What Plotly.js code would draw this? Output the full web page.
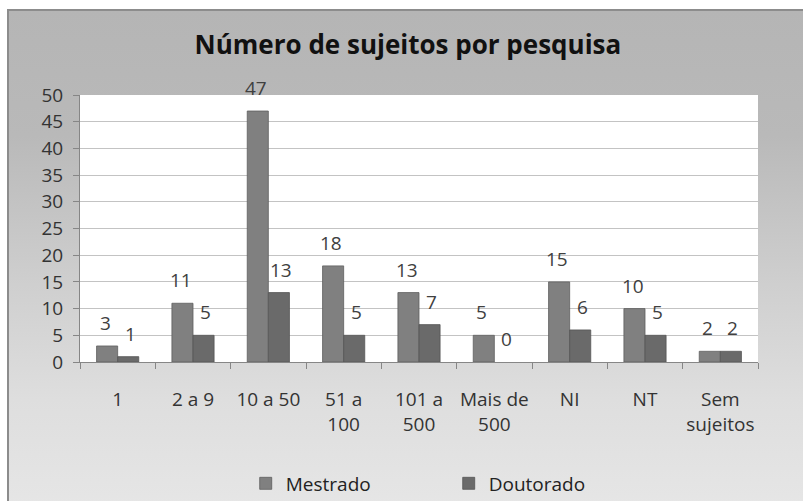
<!DOCTYPE html>
<html><head><meta charset="utf-8">
<script src="https://cdn.plot.ly/plotly-3.0.1.min.js"></script>
<style>
html,body{margin:0;padding:0;background:#fff;}
#bg{position:absolute;left:7px;top:9px;width:803px;height:500px;box-sizing:border-box;border-left:2px solid #8c8c8c;border-top:2px solid #8c8c8c;
background:linear-gradient(to bottom,#b5b5b5 0%,#b9b9b9 25%,#cfcfcf 55%,#dedede 78%,#e6e6e6 100%);}
#chart{position:absolute;left:0;top:0;width:803px;height:501px;}
</style></head>
<body>
<div id="bg"></div>
<div id="chart"></div>
<script>
const categories = ["1", "2 a 9", "10 a 50", "51 a<br>100", "101 a<br>500", "Mais de<br>500", "NI", "NT", "Sem<br>sujeitos"];
const mestrado = [3, 11, 47, 18, 13, 5, 15, 10, 2];
const doutorado = [1, 5, 13, 5, 7, 0, 6, 5, 2];
const seriesNames = ["Mestrado", "Doutorado"];
const yTicks = [0, 5, 10, 15, 20, 25, 30, 35, 40, 45, 50];

const font = "Open Sans, Liberation Sans, Arial, sans-serif";
const lw = v => v.map(d => d === 0 ? 0 : 0.8);
const traces = [
  {type:"bar", name:seriesNames[0], x:categories, y:mestrado,
   marker:{color:"#808080", line:{color:"#5e5e5e", width:lw(mestrado)}}},
  {type:"bar", name:seriesNames[1], x:categories, y:doutorado,
   marker:{color:"#6a6a6a", line:{color:"#555555", width:lw(doutorado)}}}
];
const annotations = [];
const off = 10.5;
categories.forEach((c,i)=>{
  annotations.push({x:i, y:mestrado[i], xref:"x", yref:"y", text:String(mestrado[i]), showarrow:false,
    yanchor:"bottom", xshift:-off-2, yshift:8, font:{family:font, size:19, color:"#404040"}});
  annotations.push({x:i, y:doutorado[i], xref:"x", yref:"y", text:String(doutorado[i]), showarrow:false,
    yanchor:"bottom", xshift:off+2, yshift:8, font:{family:font, size:19, color:"#404040"}});
});
const layout = {
  width:803, height:501,
  paper_bgcolor:"rgba(0,0,0,0)", plot_bgcolor:"#ffffff",
  margin:{l:80, r:45, t:95, b:139},
  title:{text:"<b>Número de sujeitos por pesquisa</b>", x:0.508, xanchor:"center", y:0.91, yanchor:"middle",
    font:{family:font, size:26, color:"#111"}},
  barmode:"group", bargap:0.44, bargroupgap:0,
  showlegend:true,
  legend:{orientation:"h", x:0.306, xanchor:"left", xref:"container", y:0.035, yref:"container", yanchor:"middle",
    font:{family:font, size:19, color:"#222"}, entrywidth:158, entrywidthmode:"pixels", itemwidth:30, bgcolor:"rgba(0,0,0,0)"},
  xaxis:{type:"category", showgrid:false, showline:true, linecolor:"#868686", linewidth:1,
    ticks:"outside", tickson:"boundaries", ticklen:6, tickcolor:"#868686", tickangle:0,
    tickfont:{family:font, size:19, color:"#333"}, ticklabelstandoff:20, fixedrange:true},
  yaxis:{range:[0,50], tickvals:yTicks, showgrid:true, gridcolor:"#c3c3c3", gridwidth:1,
    showline:true, linecolor:"#868686", linewidth:1, ticks:"outside", ticklen:6, tickcolor:"#868686",
    tickfont:{family:font, size:19, color:"#333"}, ticklabelstandoff:6, zeroline:false, fixedrange:true},
  annotations:annotations
};
Plotly.newPlot("chart", traces, layout, {displayModeBar:false, staticPlot:true});
</script>
</body></html>
